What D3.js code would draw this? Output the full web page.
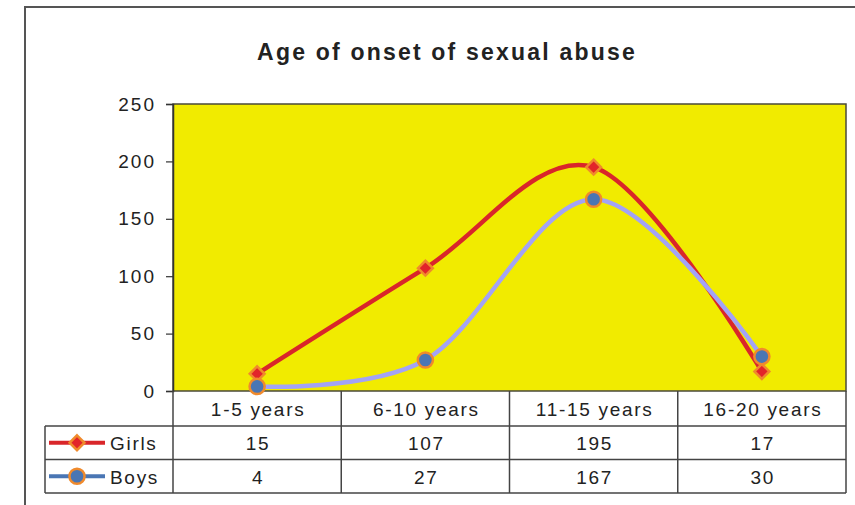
<!DOCTYPE html>
<html>
<head>
<meta charset="utf-8">
<script src="https://cdn.jsdelivr.net/npm/d3@7"></script>
<style>
  body { margin: 0; background: #fff; }
  text { font-family: "Liberation Sans", Arial, sans-serif; fill: #222; }
</style>
</head>
<body>
<div id="chart"></div>
<script>
const categories = ["1-5 years", "6-10 years", "11-15 years", "16-20 years"];
const girls = [15, 107, 195, 17];
const boys = [4, 27, 167, 30];
const yTicks = [0, 50, 100, 150, 200, 250];

const chart = {
  width: 855,
  height: 505,
  top: 104,
  right: 9,
  bottom: 114,
  left: 173,
  legendLeft: 45,
  rowH: 33.5,
  headH: 35,
};

const svg = d3
  .select("#chart")
  .append("svg")
  .attr("width", chart.width)
  .attr("height", chart.height);

/* outer frame (clipped at right and bottom) */
svg.append("path")
  .attr("d", "M25,505 V7 H855")
  .attr("fill", "none")
  .attr("stroke", "#555")
  .attr("stroke-width", 2);

var x = d3
  .scaleBand()
  .domain(categories)
  .range([chart.left, chart.width - chart.right]);

var y = d3
  .scaleLinear()
  .domain([0, 250])
  .range([chart.height - chart.bottom, chart.top]);

const plotBottom = y(0);

/* plot area */
svg.append("rect")
  .attr("x", x.range()[0])
  .attr("y", y(250))
  .attr("width", x.range()[1] - x.range()[0])
  .attr("height", y(0) - y(250))
  .attr("fill", "#f1eb00")
  .attr("stroke", "#4a4a3a")
  .attr("stroke-width", 1.5);

/* title */
svg.append("text")
  .attr("x", 447)
  .attr("y", 60)
  .attr("text-anchor", "middle")
  .style("font-size", "23px")
  .style("font-weight", "bold")
  .style("letter-spacing", "2.2px")
  .text("Age of onset of sexual abuse");

/* y axis */
var yAxis = (g) =>
  g
    .attr("transform", `translate(${chart.left}, 0)`)
    .call(d3.axisLeft(y).tickValues(yTicks).tickSize(7).tickPadding(10))
    .call((g) => g.select(".domain").attr("stroke", "#333").attr("stroke-width", 1.5))
    .call((g) => g.selectAll(".tick line").attr("stroke", "#333").attr("stroke-width", 1.2))
    .call((g) =>
      g.selectAll(".tick text")
        .attr("fill", "#222")
        .style("font-family", "'Liberation Sans', Arial, sans-serif")
        .style("font-size", "19px")
        .style("letter-spacing", "2px")
    );

svg.append("g").call(yAxis);

/* data table */
const tableTop = plotBottom;
const rowTops = [tableTop, tableTop + chart.headH, tableTop + chart.headH + chart.rowH];
const tableBottom = rowTops[2] + chart.rowH;
const table = svg.append("g").attr("stroke", "#444").attr("stroke-width", 1.5);

// vertical lines
x.domain().forEach((c) => {
  table.append("line")
    .attr("x1", x(c)).attr("x2", x(c))
    .attr("y1", tableTop).attr("y2", tableBottom);
});
table.append("line")
  .attr("x1", x.range()[1]).attr("x2", x.range()[1])
  .attr("y1", tableTop).attr("y2", tableBottom);
table.append("line")
  .attr("x1", chart.legendLeft).attr("x2", chart.legendLeft)
  .attr("y1", rowTops[1]).attr("y2", tableBottom);

// horizontal lines
[rowTops[1], rowTops[2], tableBottom].forEach((ty) => {
  table.append("line")
    .attr("x1", chart.legendLeft).attr("x2", x.range()[1])
    .attr("y1", ty).attr("y2", ty);
});

const cellText = (cx, cy, t, anchor) =>
  svg.append("text")
    .attr("x", cx)
    .attr("y", cy)
    .attr("text-anchor", anchor || "middle")
    .attr("dominant-baseline", "central")
    .style("font-size", "19px")
    .style("letter-spacing", "1.7px")
    .text(t);

categories.forEach((c, i) => {
  const cx = x(c) + x.bandwidth() / 2 + 1;
  cellText(cx, rowTops[0] + chart.headH / 2 + 1, c);
  cellText(cx, rowTops[1] + chart.rowH / 2 + 1, girls[i]);
  cellText(cx, rowTops[2] + chart.rowH / 2 + 1, boys[i]);
});

/* series */
const diamond = { draw: (ctx, size) => {
  const r = Math.sqrt(size / 2);
  ctx.moveTo(0, -r); ctx.lineTo(r, 0); ctx.lineTo(0, r); ctx.lineTo(-r, 0); ctx.closePath();
} };

const series = [
  { name: "Girls", values: girls, stroke: "#d9262a", fill: "#e2242a", shape: diamond, size: 110 },
  { name: "Boys", values: boys, stroke: "#a3a3f5", fill: "#4a76b4", shape: d3.symbolCircle, size: 180 },
];

const line = d3
  .line()
  .curve(d3.curveCardinal.tension(0))
  .x((d, i) => x(categories[i]) + x.bandwidth() / 2)
  .y((d) => y(d));

series.forEach((s, si) => {
  svg.append("path")
    .datum(s.values)
    .attr("fill", "none")
    .attr("stroke", s.stroke)
    .attr("stroke-width", 4.5)
    .attr("stroke-linejoin", "round")
    .attr("stroke-linecap", "round")
    .attr("d", line);

  svg.append("g")
    .selectAll("path")
    .data(s.values)
    .join("path")
    .attr("transform", (d, i) => `translate(${x(categories[i]) + x.bandwidth() / 2},${y(d)})`)
    .attr("d", d3.symbol().type(s.shape).size(s.size))
    .attr("fill", s.fill)
    .attr("stroke", "#f08a2c")
    .attr("stroke-width", 2.5);

  // legend key inside the table
  const ly = rowTops[si + 1] + chart.rowH / 2;
  svg.append("line")
    .attr("x1", 49).attr("x2", 105)
    .attr("y1", ly).attr("y2", ly)
    .attr("stroke", si === 0 ? "#d9262a" : "#4a76b4")
    .attr("stroke-width", 4);
  svg.append("path")
    .attr("transform", `translate(77,${ly})`)
    .attr("d", d3.symbol().type(s.shape).size(s.size))
    .attr("fill", s.fill)
    .attr("stroke", "#f08a2c")
    .attr("stroke-width", 2.5);
  cellText(110, ly + 1, s.name, "start");
});
</script>
</body>
</html>
